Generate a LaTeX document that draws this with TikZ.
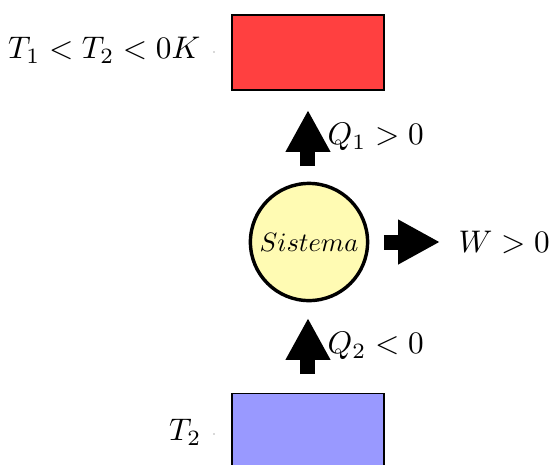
\documentclass[tikz,border=0pt]{standalone}
\usetikzlibrary{arrows.meta}
\begin{document}
\begin{tikzpicture}[x=0.32pt,y=-0.32pt,
  bigarrow/.style={line width=4.8pt,-{Triangle[length=13.4pt,width=13.4pt]}},
  res/.style={draw=black,line width=0.4pt,minimum width=48.6pt,minimum height=24pt,inner sep=0pt},
  dotmark/.style={circle,fill=gray!60,inner sep=0pt,minimum size=0.6pt}]
\useasboundingbox (0,0) rectangle (550,465);
\begin{scope}
\clip (0,0) rectangle (550,465);
\node[res,fill=red!75,minimum height=24pt] (hot) at (308,52.5) {};
\node[res,fill=blue!40,minimum height=30pt] (cold) at (308,440) {};
\end{scope}
\node[circle,draw=black,line width=1.1pt,fill=yellow!30,minimum size=37.5pt,inner sep=0pt] (sys) at (309,242) {};
\node[inner sep=0pt,scale=0.85] (syslabel) at (sys.center) {$Sistema$};
\node[dotmark] (d1) at (214,52) {};
\node[anchor=east,inner sep=0pt] (t1) at (201,50) {$T_1<T_2<0K$};
\node[dotmark] (d2) at (214,434) {};
\node[anchor=east,inner sep=0pt] (t2) at (202,432) {$T_2$};
\coordinate (q1s) at (308,166);
\coordinate (q1e) at (308,110);
\draw[bigarrow] (q1s) -- (q1e);
\node[anchor=west,inner sep=0pt] (q1) at (327,137) {$Q_1>0$};
\coordinate (q2s) at (308,374);
\coordinate (q2e) at (308,318);
\draw[bigarrow] (q2s) -- (q2e);
\node[anchor=west,inner sep=0pt] (q2) at (327,346) {$Q_2<0$};
\coordinate (ws) at (384,242);
\coordinate (we) at (440,242);
\draw[bigarrow] (ws) -- (we);
\node[anchor=west,inner sep=0pt] (w) at (458,242) {$W>0$};
\end{tikzpicture}
\end{document}
